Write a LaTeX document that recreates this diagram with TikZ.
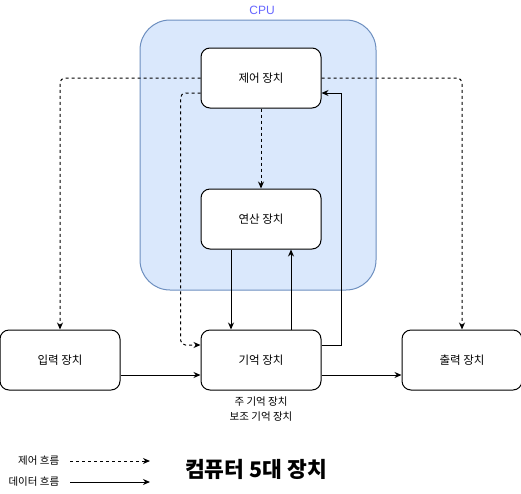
\documentclass[tikz,border=0pt]{standalone}
\usepackage{fontspec}
\setmainfont{Noto Sans CJK KR}
\newfontfamily\latinfont{Liberation Sans}
\usetikzlibrary{positioning, arrows.meta}
\definecolor{cpufill}{HTML}{DAE8FC}
\definecolor{cpuline}{HTML}{6C8EBF}
\definecolor{cputext}{HTML}{6666FF}

\begin{document}
\begin{tikzpicture}[x=1pt, y=-1pt, >={Stealth[length=7pt, width=6pt]}, node distance=80pt, line width=1pt]

    \tikzset{
        unit/.style={draw, rounded corners=9pt, fill=white, minimum width=120pt, minimum height=60pt, font=\fontsize{11.5}{13}\selectfont},
        ctrl/.style={->, dashed, rounded corners=5pt},
        data/.style={->},
        small/.style={font=\fontsize{10.5}{15}\selectfont}
    }

    \useasboundingbox (0,0) rectangle (521,493);

    % CPU container
    \node[draw=cpuline, fill=cpufill, rounded corners=30pt, minimum width=236pt, minimum height=270pt] (cpu) at (258,155) {};
    \node[text=cputext, font=\latinfont\fontsize{12}{14}\selectfont] (cpulabel) at (262,10) {CPU};

    % Define nodes
    \node[unit] (inp) at (60,360) {입력 장치};
    \node[unit, right=of inp] (mem) {기억 장치};
    \node[unit, right=of mem] (out) {출력 장치};
    \node[unit, above=of mem] (alu) {연산 장치};
    \node[unit, above=of alu] (ctl) {제어 장치};
    \node[small, below=2pt of mem, align=center] (memsub) {주 기억 장치\\보조 기억 장치};

    % Control flow
    \draw[ctrl] (ctl.west) -| (inp.north);
    \draw[ctrl] (ctl.east) -| (out.north);
    \draw[ctrl] ([yshift=-15pt]ctl.west) -- ++(-20pt,0) |- ([yshift=15pt]mem.west);
    \draw[ctrl] (ctl.south) -- (alu.north);

    % Data flow
    \draw[data] ([xshift=-30pt]alu.south) -- ([xshift=-30pt]mem.north);
    \draw[data] ([xshift=30pt]mem.north) -- ([xshift=30pt]alu.south);
    \draw[data] ([yshift=15pt]mem.east) -- ++(20pt,0) |- ([yshift=-15pt]ctl.east);
    \draw[data] ([yshift=-15pt]inp.east) -- ([yshift=-15pt]mem.west);
    \draw[data] ([yshift=-15pt]mem.east) -- ([yshift=-15pt]out.west);

    % Legend
    \node[small, anchor=east] (lgctl) at (63,461) {제어 흐름};
    \node[small, anchor=east] (lgdata) at (63,482) {데이터 흐름};
    \coordinate (lgctla) at (70,461);
    \coordinate (lgctlb) at (150,461);
    \coordinate (lgdataa) at (70,482);
    \coordinate (lgdatab) at (150,482);
    \draw[ctrl] (lgctla) -- (lgctlb);
    \draw[data] (lgdataa) -- (lgdatab);

    % Title
    \node[font=\fontsize{21.5}{24}\selectfont\bfseries] (title) at (256,469) {컴퓨터 5대 장치};

\end{tikzpicture}
\end{document}
